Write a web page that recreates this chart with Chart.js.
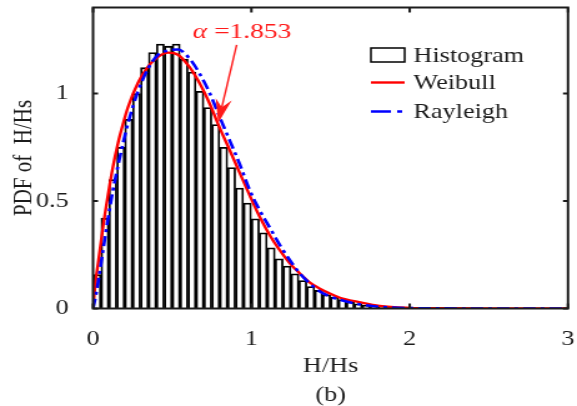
<!DOCTYPE html>
<html>
<head>
<meta charset="utf-8">
<script src="https://cdn.jsdelivr.net/npm/chart.js@4.4.0/dist/chart.umd.min.js"></script>
<style>
  html, body { margin: 0; padding: 0; background: #fff; overflow: hidden; }
  /* the reference figure is stretched sideways, so the canvas is too */
  #wrap { width: 462px; height: 406px; transform: scaleX(1.2489); transform-origin: 0 0; }
</style>
</head>
<body>
<div id="wrap"><canvas id="pdfChart" width="462" height="406"></canvas></div>
<script>
// Histogram of H/Hs (bin centres, 0.05 wide bins) and measured PDF
const histX = [0.025, 0.075, 0.125, 0.175, 0.225, 0.275, 0.325, 0.375, 0.425, 0.475,
               0.525, 0.575, 0.625, 0.675, 0.725, 0.775, 0.825, 0.875, 0.925, 0.975,
               1.025, 1.075, 1.125, 1.175, 1.225, 1.275, 1.325, 1.375, 1.425, 1.475,
               1.525, 1.575, 1.625, 1.675, 1.725, 1.775, 1.825, 1.875, 1.925, 1.975,
               2.025, 2.075, 2.125, 2.175, 2.225, 2.275];
const histY = [0.158, 0.42, 0.60, 0.75, 0.88, 1.00, 1.12, 1.19, 1.23, 1.22,
               1.23, 1.16, 1.10, 1.01, 0.935, 0.856, 0.75, 0.656, 0.56, 0.49,
               0.417, 0.352, 0.282, 0.231, 0.197, 0.161, 0.13, 0.102, 0.084, 0.064,
               0.053, 0.042, 0.031, 0.022, 0.016, 0.011, 0.008, 0.006, 0.004, 0.003,
               0.002, 0.002, 0.001, 0.001, 0.001, 0.001];

// Weibull fit (red)
const weibullX = [0, 0.015, 0.032, 0.063, 0.095, 0.126, 0.158, 0.19, 0.22, 0.284, 0.347, 0.41,
                  0.473, 0.536, 0.612, 0.675, 0.738, 0.80, 0.864, 0.927, 0.99, 1.05, 1.117,
                  1.18, 1.243, 1.306, 1.37, 1.43, 1.495, 1.56, 1.68, 1.81, 2.0, 2.2, 2.5, 3.0];
const weibullY = [0, 0.12, 0.21, 0.38, 0.53, 0.66, 0.77, 0.86, 0.935, 1.05, 1.125, 1.17,
                  1.19, 1.18, 1.12, 1.045, 0.95, 0.84, 0.735, 0.63, 0.525, 0.43, 0.34,
                  0.27, 0.21, 0.163, 0.12, 0.093, 0.07, 0.05, 0.03, 0.012, 0.003, 0.001, 0, 0];

// Rayleigh distribution (blue)
const rayleighX = [0, 0.02, 0.063, 0.095, 0.126, 0.158, 0.19, 0.22, 0.284, 0.347, 0.41,
                   0.473, 0.536, 0.612, 0.675, 0.738, 0.80, 0.864, 0.927, 0.99, 1.05, 1.117,
                   1.18, 1.243, 1.306, 1.37, 1.43, 1.495, 1.56, 1.68, 1.81, 2.0, 2.2, 2.5, 3.0];
const rayleighY = [0, 0.07, 0.27, 0.42, 0.55, 0.665, 0.77, 0.86, 1.01, 1.115, 1.18,
                   1.20, 1.205, 1.16, 1.09, 1.00, 0.89, 0.78, 0.67, 0.55, 0.46, 0.375,
                   0.295, 0.225, 0.163, 0.116, 0.08, 0.056, 0.04, 0.02, 0.008, 0.002, 0.0005, 0, 0];

const xTickStep = 1;
const yTickStep = 0.5;

// annotation (data coordinates)
const noteText = '=1.853';
const noteAt = [0.63, 1.258];
const arrowTail = [0.907, 1.226];
const arrowTip = [0.79, 0.863];

const FONT = '"Liberation Serif", "Times New Roman", serif';
const INK = '#1c1c1c';

const pairs = (xs, ys) => xs.map((x, i) => ({ x, y: ys[i] }));

// Box round the plot with inward ticks on all four sides
const framePlugin = {
    id: 'frame',
    afterDraw(chart) {
        const { ctx, chartArea: a, scales: { x, y } } = chart;
        ctx.save();
        ctx.strokeStyle = INK;
        ctx.lineWidth = 2;
        ctx.strokeRect(a.left, a.top, a.right - a.left, a.bottom - a.top);
        ctx.beginPath();
        x.ticks.forEach(t => {
            const px = x.getPixelForValue(t.value);
            ctx.moveTo(px, a.bottom); ctx.lineTo(px, a.bottom - 5);
            ctx.moveTo(px, a.top); ctx.lineTo(px, a.top + 5);
        });
        y.ticks.forEach(t => {
            const py = y.getPixelForValue(t.value);
            ctx.moveTo(a.left, py); ctx.lineTo(a.left + 4, py);
            ctx.moveTo(a.right, py); ctx.lineTo(a.right - 4, py);
        });
        ctx.stroke();
        ctx.restore();
    }
};

// Legend drawn inside the plot, top right
const legendPlugin = {
    id: 'innerLegend',
    afterDraw(chart) {
        const { ctx } = chart;
        const order = ['Histogram', 'Weibull', 'Rayleigh'];
        const rows = [55, 82.5, 111.5];
        const x0 = 297, x1 = 324, tx = 331;
        ctx.save();
        ctx.font = `21px ${FONT}`;
        ctx.textBaseline = 'middle';
        ctx.fillStyle = INK;
        order.forEach((name, i) => {
            const ds = chart.data.datasets.find(d => d.label === name);
            const yy = rows[i];
            if (ds.type === 'bar') {
                ctx.fillStyle = '#fff';
                ctx.fillRect(x0, yy - 7, x1 - x0, 14);
                ctx.strokeStyle = ds.borderColor;
                ctx.lineWidth = 1.5;
                ctx.strokeRect(x0, yy - 7, x1 - x0, 14);
            } else {
                ctx.strokeStyle = ds.borderColor;
                ctx.lineWidth = ds.borderWidth;
                ctx.setLineDash(ds.borderDash ? [16, 5, 4, 10] : []);
                ctx.beginPath();
                ctx.moveTo(x0, yy); ctx.lineTo(x1, yy);
                ctx.stroke();
                ctx.setLineDash([]);
            }
            ctx.fillStyle = INK;
            ctx.fillText(name, tx, yy + 1);
        });
        ctx.restore();
    }
};

// "α =1.853" with an arrow pointing to the Weibull curve
const notePlugin = {
    id: 'alphaNote',
    afterDatasetsDraw(chart) {
        const { ctx, scales: { x, y } } = chart;
        const tx = x.getPixelForValue(arrowTail[0]), ty = y.getPixelForValue(arrowTail[1]);
        const hx = x.getPixelForValue(arrowTip[0]), hy = y.getPixelForValue(arrowTip[1]);
        const ang = Math.atan2(hy - ty, hx - tx);
        const back = (d, off) => [
            hx - Math.cos(ang) * d - Math.sin(ang) * off,
            hy - Math.sin(ang) * d + Math.cos(ang) * off
        ];
        const red = '#ff1a1a';
        ctx.save();
        ctx.strokeStyle = red;
        ctx.fillStyle = red;
        ctx.lineWidth = 1.4;
        const notch = back(16, 0);
        ctx.beginPath();
        ctx.moveTo(tx, ty);
        ctx.lineTo(notch[0], notch[1]);
        ctx.stroke();
        const l = back(24, 6.5), r = back(24, -6.5);
        ctx.beginPath();
        ctx.moveTo(hx, hy);
        ctx.lineTo(l[0], l[1]);
        ctx.lineTo(notch[0], notch[1]);
        ctx.lineTo(r[0], r[1]);
        ctx.closePath();
        ctx.fill();

        let px = x.getPixelForValue(noteAt[0]);
        const py = y.getPixelForValue(noteAt[1]);
        ctx.textBaseline = 'alphabetic';
        ctx.textAlign = 'left';
        ctx.font = `italic 22px ${FONT}`;
        ctx.fillText('α', px, py);
        px += ctx.measureText('α ').width;
        ctx.font = `22px ${FONT}`;
        ctx.fillText(noteText, px, py);
        ctx.restore();
    }
};

new Chart(document.getElementById('pdfChart'), {
    type: 'bar',
    data: {
        datasets: [
            {
                type: 'line',
                label: 'Rayleigh',
                data: pairs(rayleighX, rayleighY),
                borderColor: '#0000ff',
                borderWidth: 2.6,
                borderDash: [10, 4, 3, 4],
                pointRadius: 0,
                cubicInterpolationMode: 'monotone',
                fill: false,
                order: 0
            },
            {
                type: 'line',
                label: 'Weibull',
                data: pairs(weibullX, weibullY),
                borderColor: '#ff0000',
                borderWidth: 2.4,
                pointRadius: 0,
                cubicInterpolationMode: 'monotone',
                fill: false,
                order: 1
            },
            {
                type: 'bar',
                label: 'Histogram',
                data: pairs(histX, histY),
                backgroundColor: '#ffffff',
                borderColor: '#000000',
                borderWidth: 1.8,
                barPercentage: 1,
                categoryPercentage: 1,
                order: 2
            }
        ]
    },
    options: {
        responsive: false,
        animation: false,
        layout: { padding: { top: 7.5, right: 7.2, left: 0, bottom: 0 } },
        plugins: {
            legend: { display: false },
            tooltip: { enabled: false }
        },
        scales: {
            x: {
                type: 'linear',
                min: 0,
                max: 3,
                offset: false,
                grid: { display: false },
                border: { display: false },
                ticks: {
                    stepSize: xTickStep,
                    padding: 10,
                    color: INK,
                    font: { family: FONT, size: 21 }
                },
                title: {
                    display: true,
                    text: ['H/Hs', '(b)'],
                    color: INK,
                    font: { family: FONT, size: 21, lineHeight: 1.38 },
                    padding: { top: 0, bottom: -4 }
                },
                afterFit: scale => {
                    scale.height = 97.5;
                    scale.paddingLeft = 0;
                    scale.paddingRight = 0;
                }
            },
            y: {
                min: 0,
                max: 1.4,
                grid: { display: false },
                border: { display: false },
                ticks: {
                    stepSize: yTickStep,
                    includeBounds: false,
                    padding: 11.6,
                    color: INK,
                    font: { family: FONT, size: 21 },
                    callback: value => String(value)
                },
                title: {
                    display: true,
                    text: 'PDF of  H/Hs',
                    color: INK,
                    font: { family: FONT, size: 21, lineHeight: 1.2 },
                    padding: { top: 6.6, bottom: 0 }
                },
                afterFit: scale => {
                    scale.width = 74.5;
                    scale.paddingTop = 0;
                    scale.paddingBottom = 0;
                }
            }
        }
    },
    plugins: [framePlugin, legendPlugin, notePlugin]
});
</script>
</body>
</html>
